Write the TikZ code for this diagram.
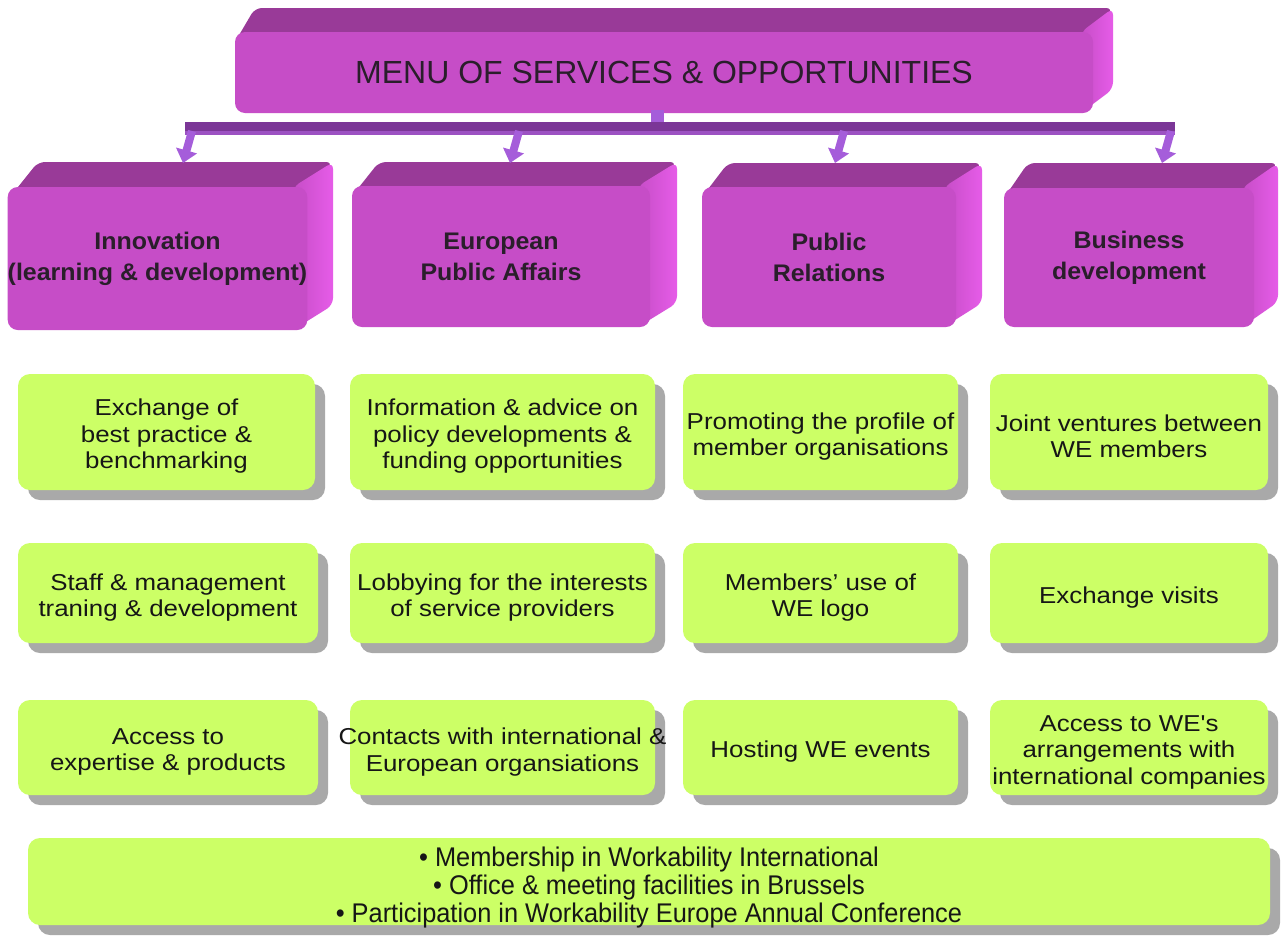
\documentclass[tikz,border=0pt]{standalone}
\usepackage{fontspec}
\setmainfont{Liberation Sans}
\newfontfamily\gfont[FakeStretch=1.125]{Liberation Sans}
\newfontfamily\hfont[FakeStretch=1.04]{Liberation Sans}
\newfontfamily\btfont[FakeStretch=0.94]{Liberation Sans}
\usetikzlibrary{arrows.meta,shadows}
\definecolor{ptop}{HTML}{993A98}
\definecolor{pfront}{HTML}{C64DC7}
\definecolor{pside}{HTML}{E65CE8}
\definecolor{lime}{HTML}{CCFF66}
\definecolor{shadowgray}{HTML}{A9A9A9}
\definecolor{barpurple}{HTML}{7B3697}
\definecolor{barlight}{HTML}{9C52C2}
\definecolor{arrowpurple}{HTML}{A55DDA}
\definecolor{hdtext}{HTML}{2A1E2B}
\definecolor{gtext}{HTML}{161616}
\tikzset{
  pfrontbox/.style={fill=pfront, rounded corners=10pt, inner sep=0pt, align=center, text=hdtext},
  hdr/.style={font=\hfont\bfseries\fontsize{24}{31}\selectfont},
  ttl/.style={font=\fontsize{32}{36}\selectfont},
  gbox/.style={fill=lime, rounded corners=12pt, inner sep=0pt,
    drop shadow={shadow xshift=10pt, shadow yshift=-10pt, fill=shadowgray, opacity=1}},
  gtxt/.style={align=center, inner sep=0pt, text=gtext, font=\gfont\fontsize{23}{26.5}\selectfont},
  bottxt/.style={align=center, inner sep=0pt, text=gtext, font=\btfont\fontsize{27}{28}\selectfont},
  arrowline/.style={draw=arrowpurple, line width=8pt, -{Triangle[width=21pt,length=13pt]}}
}
% #1 name, #2 x1, #3 y1, #4 x2, #5 y2, #6 depth x, #7 depth y, #8 style, #9 text
\newcommand\pcube[9]{%
  \fill[ptop, rounded corners=7pt] (#2,{#3+10}) -- ({#2+#6},{#3-#7}) -- ({#4+#6},{#3-#7}) -- (#4,{#3+10}) -- cycle;
  \shade[left color=pfront, right color=pside, rounded corners=7pt] ({#4-12},#3) -- ({#4+#6},{#3-#7}) -- ({#4+#6},{#5-#7}) -- ({#4-12},#5) -- cycle;
  \node[pfrontbox, #8, minimum width={(#4-#2)*1pt}, minimum height={(#5-#3)*1pt}] (#1) at ({(#2+#4)/2},{(#3+#5)/2}) {#9};
}
% #1 name, #2 cx, #3 cy, #4 width, #5 height, #6 text
\newcommand\gcard[6]{%
  \node[gbox, minimum width=#4, minimum height=#5] (#1) at (#2,#3) {};
  \node[gtxt] (#1t) at ([yshift=-4.5pt]#1.center) {#6};
}
\begin{document}
\begin{tikzpicture}[x=1pt,y=-1pt]
\useasboundingbox (0,0) rectangle (1288,940);
\fill[white] (0,0) rectangle (1288,940);

% title box
\pcube{top}{235}{32}{1093}{113}{20}{24}{ttl}{MENU OF SERVICES \& OPPORTUNITIES}

% stem and bar
\fill[arrowpurple] (651,110) rectangle (664,124);
\fill[barpurple] (185,122) rectangle (1175,135);
\fill[barlight] (185,131) rectangle (1175,135);

% column boxes
\pcube{c1}{10}{187}{305}{330}{28}{25}{hdr}{Innovation\\(learning \& development)}
\pcube{c2}{352}{186}{650}{327}{27}{24}{hdr}{European\\Public Affairs}
\pcube{c3}{702}{187}{956}{327}{26}{24}{hdr}{Public\\Relations}
\pcube{c4}{1004}{188}{1254}{327}{24}{25}{hdr}{Business\\development}

% arrows
\coordinate (s1) at (192,131); \coordinate (e1) at (183,163);
\coordinate (s2) at (519,131); \coordinate (e2) at (510,163);
\coordinate (s3) at (844,131); \coordinate (e3) at (835,163);
\coordinate (s4) at (1171,131); \coordinate (e4) at (1162,163);
\draw[arrowline] (s1) -- (e1);
\draw[arrowline] (s2) -- (e2);
\draw[arrowline] (s3) -- (e3);
\draw[arrowline] (s4) -- (e4);

% green boxes row 1
\gcard{g11}{166.5}{432}{297pt}{116pt}{Exchange of\\best practice \&\\benchmarking}
\gcard{g12}{502.5}{432}{305pt}{116pt}{Information \& advice on\\policy developments \&\\funding opportunities}
\gcard{g13}{820.5}{432}{275pt}{116pt}{Promoting the profile of\\member organisations}
\gcard{g14}{1129}{432}{278pt}{116pt}{Joint ventures between\\WE members}
% row 2
\gcard{g21}{168}{593}{300pt}{100pt}{Staff \& management\\traning \& development}
\gcard{g22}{502.5}{593}{305pt}{100pt}{Lobbying for the interests\\of service providers}
\gcard{g23}{820.5}{593}{275pt}{100pt}{Members’ use of\\WE logo}
\gcard{g24}{1129}{593}{278pt}{100pt}{Exchange visits}
% row 3
\gcard{g31}{168}{747.5}{300pt}{95pt}{Access to\\expertise \& products}
\gcard{g32}{502.5}{747.5}{305pt}{95pt}{Contacts with international \&\\European organsiations}
\gcard{g33}{820.5}{747.5}{275pt}{95pt}{Hosting WE events}
\gcard{g34}{1129}{747.5}{278pt}{95pt}{Access to WE's\\arrangements with\\international companies}

% bottom box
\node[gbox, minimum width=1242pt, minimum height=87pt] (bot) at (649,881.5) {};
\node[bottxt] (bott) at ([yshift=-6pt]bot.center)
  {• Membership in Workability International\\• Office \& meeting facilities in Brussels\\• Participation in Workability Europe Annual Conference};
\end{tikzpicture}
\end{document}
